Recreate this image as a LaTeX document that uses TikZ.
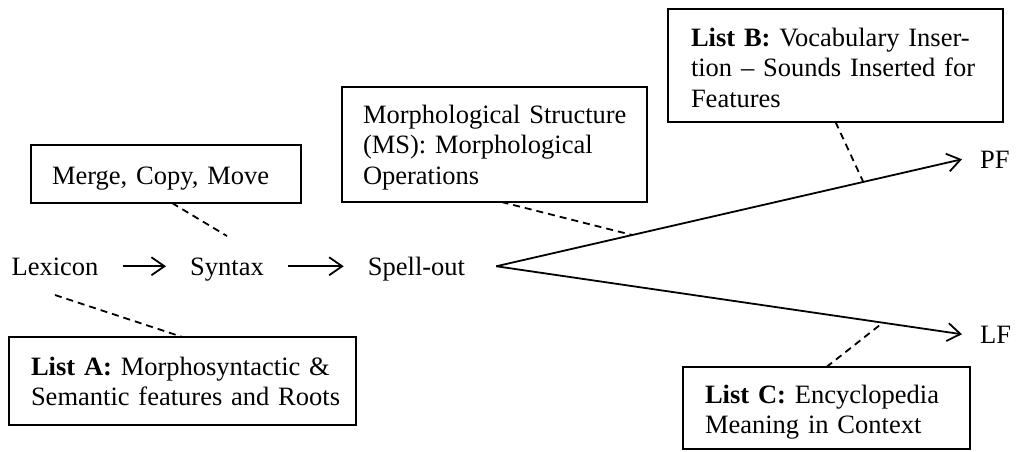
\documentclass[tikz,border=0pt]{standalone}
\usepackage{fontspec}
\setmainfont{Liberation Serif}
\usetikzlibrary{arrows.meta,calc}

\begin{document}
\begin{tikzpicture}[x=1pt,y=-1pt,
  every node/.style={font=\fontsize{26.5}{30.5}\selectfont},
  listbox/.style={draw, line width=2.6pt, align=left, inner ysep=0pt,
    outer sep=0pt, anchor=base west},
  word/.style={inner xsep=24pt, inner ysep=3pt, text height=17.5pt, text depth=0pt},
  flow/.style={line width=1.8pt, -{Straight Barb[length=13pt,width=18pt]}},
  link/.style={line width=1.8pt, dash pattern=on 7pt off 5pt}
]
\useasboundingbox (0,0) rectangle (1019,451);

% the derivation row
\node[word, anchor=base] (lex) at (55,275) {Lexicon};
\node[word, anchor=base] (syn) at (227,275) {Syntax};
\node[word, anchor=base] (spell) at (416.5,275) {Spell-out};
\node[word, inner xsep=18pt, anchor=base west] (pf) at (962,168) {PF};
\node[word, inner xsep=18pt, anchor=base west] (lf) at (962,343) {LF};

% annotation boxes (each line kept whole)
\node[listbox, inner xsep=21pt, text width=228pt, text height=39pt, text depth=19pt]
  (merge) at (31,184) {\mbox{Merge, Copy, Move}};
\node[listbox, inner xsep=21pt, text width=263pt, text height=36pt, text depth=79pt]
  (ms) at (342,123) {\mbox{Morphological Structure}\\\mbox{(MS): Morphological}\\\mbox{Operations}};
\node[listbox, inner xsep=23pt, text width=289pt, text height=37pt, text depth=76pt]
  (lb) at (668,46) {\mbox{\textbf{List B:} Vocabulary Inser-}\\\mbox{tion – Sounds Inserted for}\\\mbox{Features}};
\node[listbox, inner xsep=22pt, text width=303pt, text height=38pt, text depth=50pt]
  (la) at (9,375) {\mbox{\textbf{List A:} Morphosyntactic \&}\\\mbox{Semantic features and Roots}};
\node[listbox, inner xsep=22pt, text width=243pt, text height=36pt, text depth=46pt]
  (lc) at (683,403) {\mbox{\textbf{List C:} Encyclopedia}\\\mbox{Meaning in Context}};

% free ends of the dashed links
\coordinate (fork) at ([xshift=7pt]spell.east);
\coordinate (lexfoot) at (55,295);
\coordinate (synhead) at (227,236);

% arrows
\draw[flow] (lex) -- (syn);
\draw[flow] (syn) -- (spell);
\draw[flow] (fork) -- (pf.west);
\draw[flow] (fork) -- (lf.west);

% dashed links to the lists
\draw[link] ([xshift=6pt]merge.south) -- (synhead);
\draw[link] (lexfoot) -- (la.north);
\draw[link] ([xshift=7pt]ms.south) -- ($(fork)!0.292!(pf.west)$);
\draw[link] (lb.south) -- ($(fork)!0.788!(pf.west)$);
\draw[link] (lc.north) -- ($(fork)!0.83!(lf.west)$);
\end{tikzpicture}
\end{document}
